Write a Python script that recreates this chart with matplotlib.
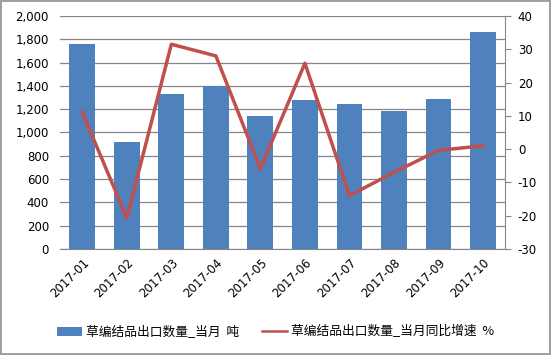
import matplotlib
matplotlib.use('Agg')
import matplotlib.pyplot as plt
import numpy as np

plt.rcParams['font.family'] = ['DejaVu Sans', 'Noto Sans CJK SC']
plt.rcParams['axes.unicode_minus'] = False

months = ['2017-01', '2017-02', '2017-03', '2017-04', '2017-05',
          '2017-06', '2017-07', '2017-08', '2017-09', '2017-10']
qty = [1760, 916, 1330, 1399, 1142, 1279, 1242, 1185, 1288, 1863]
growth = [11.0, -20.7, 31.5, 28.0, -5.9, 25.8, -14.0, -7.0, -0.4, 1.0]

bar_color = '#4F81BD'
line_color = '#C0504D'

fig = plt.figure(figsize=(5.51, 3.55), dpi=100)
fig.patch.set_edgecolor('#A0A0A0')
fig.patch.set_linewidth(1.5)
ax = fig.add_axes([0.109, 0.299, 0.808, 0.656])
ax2 = ax.twinx()

x = np.arange(len(months))
bars = ax.bar(x, qty, width=0.58, color=bar_color, zorder=2, label='草编结品出口数量_当月  吨')
ln, = ax2.plot(x, growth, color=line_color, linewidth=2.5, zorder=3, label='草编结品出口数量_当月同比增速  %')

ax.set_xlim(-0.5, len(months) - 0.5)
ax.set_ylim(0, 2000)
ax.set_yticks(range(0, 2001, 200))
ax.set_yticklabels([f'{v:,}' for v in range(0, 2001, 200)])
ax2.set_ylim(-30, 40)
ax2.set_yticks(range(-30, 41, 10))
ax.grid(axis='y', color='#868686', linewidth=0.9, zorder=0)
ax.set_axisbelow(True)

ax.set_xticks(x)
ax.set_xticklabels(months, rotation=45, ha='right', rotation_mode='anchor')
for a in (ax, ax2):
    for s in ('top', 'left'):
        a.spines[s].set_visible(False)
ax2.spines['right'].set_color('#868686')
ax.spines['bottom'].set_color('#868686')
ax.spines['right'].set_visible(False)
ax2.spines['bottom'].set_visible(False)
ax.tick_params(axis='y', length=0, labelsize=8.5, pad=8)
ax.tick_params(axis='x', length=0, labelsize=8.5, pad=5)
ax2.tick_params(axis='y', length=4, color='#868686', labelsize=8.5, direction='out', pad=5)

leg = fig.legend([bars, ln], [bars.get_label(), ln.get_label()], loc='center left',
                 bbox_to_anchor=(0.083, 0.065), ncol=2, frameon=False,
                 prop={'family': ['Noto Sans CJK SC', 'DejaVu Sans'], 'size': 9.2},
                 handlelength=1.95, columnspacing=1.8, handletextpad=0.3)
leg.get_lines()[0].set_linewidth(1.8)

fig.savefig('out.png', dpi=100)
